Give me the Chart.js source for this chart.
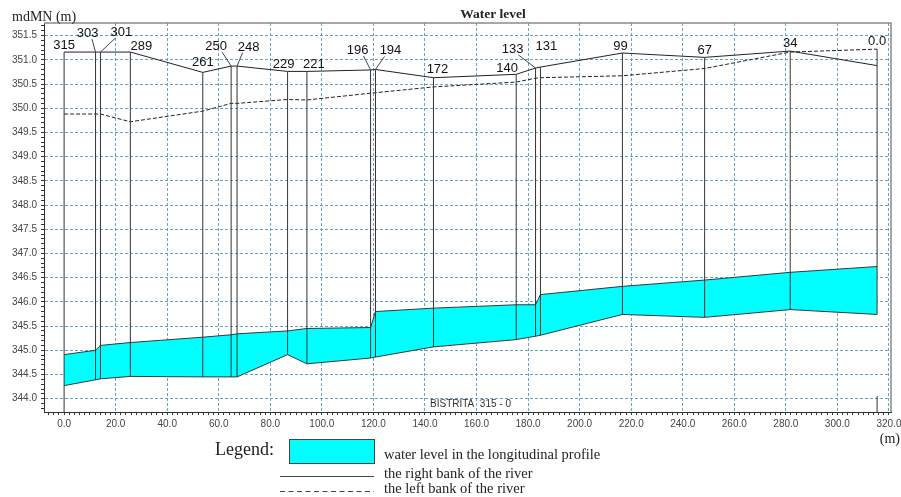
<!DOCTYPE html>
<html>
<head>
<meta charset="utf-8">
<title>Water level</title>
<script src="https://cdn.jsdelivr.net/npm/chart.js@4.4.1/dist/chart.umd.min.js"></script>
<style>
  html, body { margin: 0; padding: 0; background: #fff; }
  #wrap { width: 901px; height: 497px; }
</style>
</head>
<body>
<div id="wrap"><canvas id="myChart" width="901" height="497"></canvas></div>
<script>
// cross sections: name and distance along the profile (m)
var stations = ['315', '303', '301', '289', '261', '250', '248', '229', '221', '196', '194', '172', '140', '133', '131', '99', '67', '34', '0.0'];
var distance = [0, 12.2, 14.1, 25.7, 53.8, 64.8, 67.1, 86.7, 94.2, 118.9, 120.8, 143.3, 175.4, 182.9, 184.8, 216.6, 248.5, 281.7, 315.4];

// levels in mdMN
var rightBank = [351.16, 351.16, 351.16, 351.16, 350.74, 350.87, 350.87, 350.76, 350.76, 350.79, 350.80, 350.63, 350.70, 350.83, 350.85, 351.14, 351.05, 351.18, 350.88];
var leftBank = [349.88, 349.88, 349.88, 349.72, 349.94, 350.10, 350.10, 350.18, 350.17, 350.31, 350.32, 350.44, 350.54, 350.62, 350.63, 350.67, 350.82, 351.16, 351.22];
var waterLevel = [344.91, 345.00, 345.10, 345.16, 345.27, 345.32, 345.34, 345.40, 345.45, 345.47, 345.80, 345.87, 345.94, 345.94, 346.15, 346.32, 346.45, 346.61, 346.73];
var riverBed = [344.27, 344.39, 344.41, 344.46, 344.45, 344.45, 344.45, 344.91, 344.72, 344.84, 344.86, 345.07, 345.22, 345.29, 345.31, 345.74, 345.68, 345.84, 345.74];

// axes
var xMin = -7.8, xMax = 320.8, xStep = 2, xLabelStep = 20;
var yMin = 343.725, yMax = 351.76, yStep = 0.1, yLabelStep = 0.5;

// where each section name sits relative to the top of its section: [dx, dy, leader]
var labelPos = [[0, -3.5, 0], [-8, -15, 1], [21, -16, 1], [11, -2.5, 0], [0, -6, 0], [-15, -16, 1], [11.5, -15.5, 1],
  [-4, -3, 0], [7, -3, 0], [-13, -16, 1], [15, -15, 1], [4, -4.5, 0], [-9, -2, 0], [-23, -15, 1], [6, -17, 0],
  [-2, -3.4, 0], [0, -3.5, 0], [0, -4, 0], [0, -4.5, 0]];

var gridColor = '#6aa3c0';
var serif = '"Liberation Serif", "Times New Roman", serif';
var sans = '"Liberation Sans", Arial, sans-serif';

function points(levels) {
  return distance.map(function(d, i) { return {x: d, y: levels[i]}; });
}

function sectionLines() {
  var pts = [];
  distance.forEach(function(d, i) {
    var top = Math.max(rightBank[i], leftBank[i]);
    var bottom = i === 0 ? yMin : riverBed[i];
    pts.push({x: d, y: bottom}, {x: d, y: top}, {x: d, y: null});
  });
  var last = distance[distance.length - 1];
  pts.push({x: last, y: yMin}, {x: last, y: yMin + 0.33});
  return pts;
}

function tickList(min, max, step) {
  var list = [];
  for (var v = Math.ceil(min / step) * step; v <= max + 1e-9; v += step) {
    list.push({value: Math.round(v * 1000) / 1000});
  }
  return list;
}

function isMultiple(v, step) {
  var r = v / step;
  return Math.abs(r - Math.round(r)) < 1e-6;
}

var annotate = {
  id: 'annotate',
  afterDatasetsDraw: function(chart) {
    var ctx = chart.ctx, x = chart.scales.x, y = chart.scales.y, a = chart.chartArea;
    ctx.save();

    // frame top / right
    ctx.strokeStyle = '#8a8a8a';
    ctx.lineWidth = 1.5;
    ctx.beginPath();
    ctx.moveTo(a.left, a.top);
    ctx.lineTo(a.right, a.top);
    ctx.lineTo(a.right, a.bottom);
    ctx.stroke();

    // section names
    ctx.font = '13px ' + sans;
    ctx.fillStyle = '#111';
    ctx.strokeStyle = '#444';
    ctx.lineWidth = 1;
    ctx.textAlign = 'center';
    ctx.textBaseline = 'alphabetic';
    stations.forEach(function(s, i) {
      var px = x.getPixelForValue(distance[i]);
      var py = y.getPixelForValue(Math.max(rightBank[i], leftBank[i]));
      var p = labelPos[i];
      var cx = px + p[0], by = py + p[1];
      ctx.fillText(s, cx, by);
      if (p[2]) {
        var w = ctx.measureText(s).width;
        var d = Math.max(-w / 2, Math.min(w / 2, px - cx)) * 0.55;
        ctx.beginPath();
        ctx.moveTo(cx + d, by + 2);
        ctx.lineTo(px, py);
        ctx.stroke();
      }
    });

    ctx.font = '10px ' + sans;
    ctx.fillStyle = '#333';
    ctx.fillText('BISTRITA  315 - 0', 470.5, 407);
    ctx.restore();
  },
  afterDraw: function(chart) {
    var ctx = chart.ctx;
    ctx.save();
    ctx.fillStyle = '#222';
    ctx.textBaseline = 'alphabetic';

    ctx.font = 'bold 13.5px ' + serif;
    ctx.textAlign = 'center';
    ctx.fillText('Water level', 493, 18);

    ctx.font = '14px ' + serif;
    ctx.textAlign = 'left';
    ctx.fillText('mdMN (m)', 12, 21);
    ctx.textAlign = 'right';
    ctx.fillText('(m)', 900, 443);

    // legend
    ctx.textAlign = 'left';
    ctx.font = '18px ' + serif;
    ctx.fillText('Legend:', 215, 455);

    ctx.fillStyle = '#00ffff';
    ctx.fillRect(289.5, 439.5, 85, 24);
    ctx.strokeStyle = '#444';
    ctx.lineWidth = 1;
    ctx.strokeRect(289.5, 439.5, 85, 24);

    ctx.beginPath();
    ctx.moveTo(280, 476.5);
    ctx.lineTo(374, 476.5);
    ctx.stroke();
    ctx.setLineDash([5, 3.5]);
    ctx.beginPath();
    ctx.moveTo(280, 491.5);
    ctx.lineTo(374, 491.5);
    ctx.stroke();
    ctx.setLineDash([]);

    ctx.fillStyle = '#222';
    ctx.font = '14.5px ' + serif;
    ctx.fillText('water level in the longitudinal profile', 384, 459);
    ctx.fillText('the right bank of the river', 384, 478);
    ctx.fillText('the left bank of the river', 384, 493);
    ctx.restore();
  }
};

function getChart() {
  var ctx = document.getElementById('myChart').getContext('2d');
  var myChart = new Chart(ctx, {
    type: 'line',
    data: {
      datasets: [{
        label: 'water level in the longitudinal profile',
        data: points(waterLevel),
        borderColor: '#2f3a3a',
        borderWidth: 1,
        backgroundColor: '#00ffff',
        fill: {target: 1},
        order: 5
      }, {
        label: 'river bed',
        data: points(riverBed),
        borderColor: '#3a3a3a',
        borderWidth: 1,
        fill: false,
        order: 4
      }, {
        label: 'the right bank of the river',
        data: points(rightBank),
        borderColor: '#222',
        borderWidth: 1,
        fill: false,
        order: 3
      }, {
        label: 'the left bank of the river',
        data: points(leftBank),
        borderColor: '#222',
        borderWidth: 1,
        borderDash: [4, 2],
        fill: false,
        order: 2
      }, {
        label: 'sections',
        data: sectionLines(),
        borderColor: '#333',
        borderWidth: 1,
        spanGaps: false,
        fill: false,
        order: 1
      }]
    },
    options: {
      responsive: false,
      animation: false,
      devicePixelRatio: 1,
      events: [],
      layout: {padding: {left: 0, top: 23, right: 10, bottom: 0}},
      elements: {
        point: {radius: 0},
        line: {tension: 0}
      },
      plugins: {
        legend: {display: false},
        tooltip: {enabled: false},
        title: {display: false}
      },
      scales: {
        x: {
          type: 'linear',
          min: xMin,
          max: xMax,
          afterBuildTicks: function(scale) { scale.ticks = tickList(xMin, xMax, xStep); },
          afterFit: function(scale) { scale.height = 85; scale.paddingLeft = 0; scale.paddingRight = 0; },
          ticks: {
            autoSkip: false,
            maxRotation: 0,
            padding: 3,
            color: '#444',
            font: {family: sans, size: 10},
            callback: function(v) { return v >= 0 && isMultiple(v, xLabelStep) ? v.toFixed(1) : ''; }
          },
          grid: {
            color: function(c) { return c.tick && c.tick.value > 0 && isMultiple(c.tick.value, xLabelStep) ? gridColor : 'rgba(0,0,0,0)'; },
            tickColor: '#333',
            tickLength: 3,
            lineWidth: 1
          },
          border: {color: '#333', width: 1, dash: [3, 2]}
        },
        y: {
          type: 'linear',
          min: yMin,
          max: yMax,
          afterBuildTicks: function(scale) { scale.ticks = tickList(yMin, yMax, yStep); },
          afterFit: function(scale) { scale.width = 44; scale.paddingTop = 0; scale.paddingBottom = 0; },
          ticks: {
            autoSkip: false,
            padding: 4,
            color: '#444',
            font: {family: sans, size: 10},
            callback: function(v) { return isMultiple(v, yLabelStep) ? v.toFixed(1) : ''; }
          },
          grid: {
            color: function(c) { return c.tick && isMultiple(c.tick.value, yLabelStep) ? gridColor : 'rgba(0,0,0,0)'; },
            tickColor: '#333',
            tickLength: 3,
            lineWidth: 1
          },
          border: {color: '#333', width: 1, dash: [3, 2]}
        }
      }
    },
    plugins: [annotate]
  });
}

getChart();
</script>
</body>
</html>
